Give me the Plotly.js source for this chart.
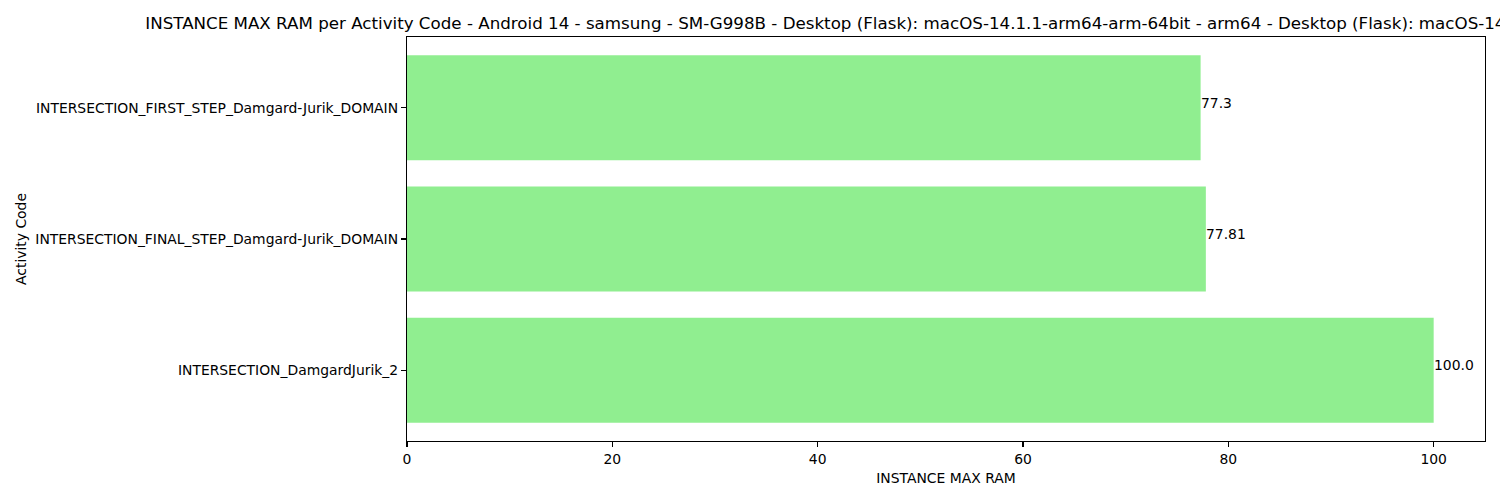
<!DOCTYPE html>
<html>
<head>
<meta charset="utf-8">
<script src="https://cdn.plot.ly/plotly-3.0.1.min.js"></script>
<style>html,body{margin:0;padding:0;background:#fff;}#chart{width:1500px;height:500px;}</style>
</head>
<body>
<div id="chart"></div>
<script>
const categories = [
  "INTERSECTION_DamgardJurik_2",
  "INTERSECTION_FINAL_STEP_Damgard-Jurik_DOMAIN",
  "INTERSECTION_FIRST_STEP_Damgard-Jurik_DOMAIN"
];
const values = [100.0, 77.81, 77.3];
const valueLabels = ["100.0", "77.81", "77.3"];
const xTicks = [0, 20, 40, 60, 80, 100];
const titleText = "INSTANCE MAX RAM per Activity Code - Android 14 - samsung - SM-G998B - Desktop (Flask): macOS-14.1.1-arm64-arm-64bit - arm64 - Desktop (Flask): macOS-14.1.1-arm64-arm-64bit - arm64";

const font = "DejaVu Sans, sans-serif";

const trace = {
  type: "bar",
  orientation: "h",
  x: values,
  y: categories.map((c, i) => i),
  width: 0.8,
  marker: {color: "#90EE90", line: {width: 0}},
  hoverinfo: "none"
};

const annotations = values.map((v, i) => ({
  x: v, y: i, xref: "x", yref: "y",
  text: valueLabels[i],
  showarrow: false,
  xanchor: "left", yanchor: "middle",
  xshift: -2, yshift: 5,
  font: {family: font, size: 13.9, color: "#000"}
}));

const layout = {
  width: 1500, height: 500,
  margin: {l: 407, r: 15, t: 37, b: 59},
  paper_bgcolor: "#fff",
  plot_bgcolor: "#fff",
  showlegend: false,
  font: {family: font, size: 13.9, color: "#000"},
  title: {
    text: titleText,
    x: 0.5046, xref: "paper", xanchor: "center",
    y: 1 - 23 / 500, yref: "container", yanchor: "middle",
    font: {family: font, size: 16.7, color: "#000"}
  },
  xaxis: {
    range: [0, 105],
    tickvals: xTicks,
    ticktext: xTicks.map(String),
    ticks: "outside", ticklen: 5, tickwidth: 1.1, tickcolor: "#000",
    showgrid: false, zeroline: false,
    showline: true, mirror: true, linecolor: "#000", linewidth: 1.1,
    tickfont: {family: font, size: 13.9, color: "#000"},
    title: {text: "INSTANCE MAX RAM", font: {family: font, size: 13.9, color: "#000"}, standoff: 7}
  },
  yaxis: {
    range: [-0.54, 2.54],
    tickvals: categories.map((c, i) => i),
    ticktext: categories,
    ticks: "outside", ticklen: 5, tickwidth: 1.1, tickcolor: "#000",
    showgrid: false, zeroline: false,
    showline: true, mirror: true, linecolor: "#000", linewidth: 1.1,
    tickfont: {family: font, size: 13.9, color: "#000"},
    title: {text: "Activity Code", font: {family: font, size: 13.9, color: "#000"}, standoff: 5}
  },
  annotations: annotations
};

Plotly.newPlot("chart", [trace], layout, {staticPlot: true, displayModeBar: false});
</script>
</body>
</html>
